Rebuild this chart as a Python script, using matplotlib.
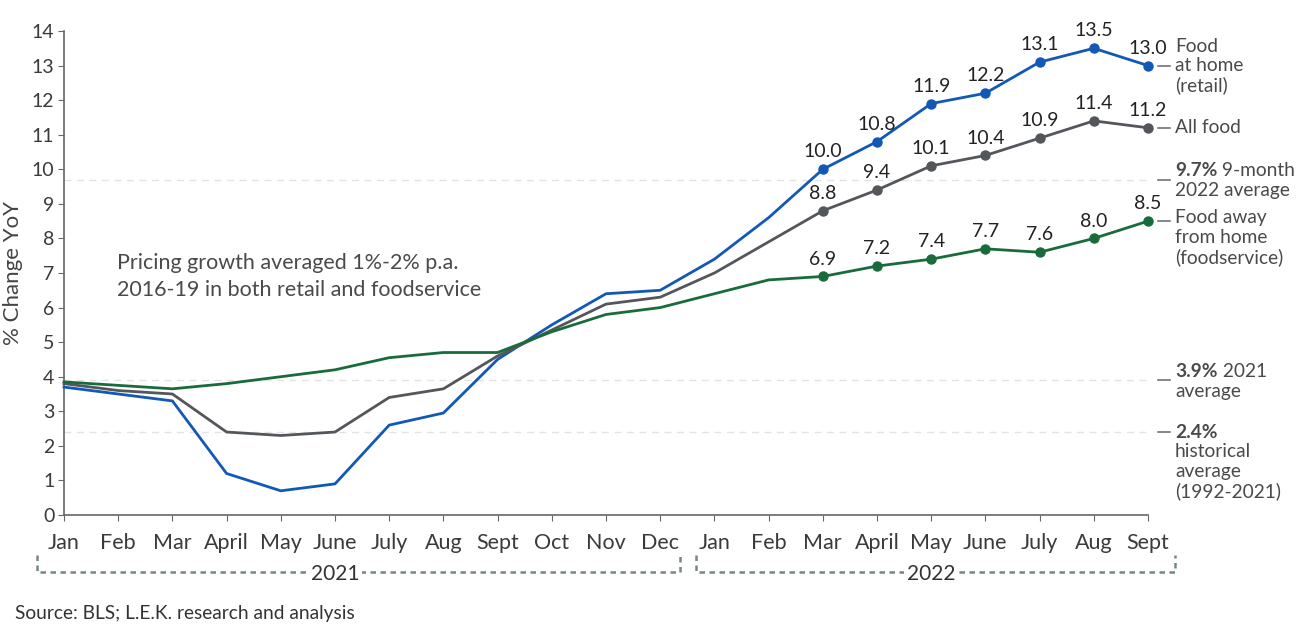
import matplotlib
matplotlib.use("Agg")
import matplotlib.pyplot as plt
from matplotlib.lines import Line2D

plt.rcParams['font.family'] = ['Lato', 'DejaVu Sans']

# ---- data ----
months_2021 = ['Jan', 'Feb', 'Mar', 'April', 'May', 'June', 'July', 'Aug', 'Sept', 'Oct', 'Nov', 'Dec']
months_2022 = ['Jan', 'Feb', 'Mar', 'April', 'May', 'June', 'July', 'Aug', 'Sept']
food_at_home = [3.7, 3.5, 3.3, 1.2, 0.7, 0.9, 2.6, 2.95, 4.5, 5.5, 6.4, 6.5,
                7.4, 8.6, 10.0, 10.8, 11.9, 12.2, 13.1, 13.5, 13.0]
all_food = [3.8, 3.6, 3.5, 2.4, 2.3, 2.4, 3.4, 3.65, 4.6, 5.35, 6.1, 6.3,
            7.0, 7.9, 8.8, 9.4, 10.1, 10.4, 10.9, 11.4, 11.2]
food_away = [3.85, 3.75, 3.65, 3.8, 4.0, 4.2, 4.55, 4.7, 4.7, 5.3, 5.8, 6.0,
             6.4, 6.8, 6.9, 7.2, 7.4, 7.7, 7.6, 8.0, 8.5]
labeled_from = 14  # Mar 2022 onward carry markers and value labels
ref_2022_avg = 9.7
ref_2021_avg = 3.9
ref_hist_avg = 2.4

BLUE = '#1258b5'
GRAY = '#53575b'
GREEN = '#1a6b3c'
TXT = '#4a4a4a'

fig = plt.figure(figsize=(13, 6.33), dpi=100)
ax = fig.add_axes([64 / 1300, 1 - 515 / 633, (1148 - 64) / 1300, (515 - 31) / 633])

months = months_2021 + months_2022
x = list(range(len(months)))

# reference lines
for v in (ref_2022_avg, ref_2021_avg, ref_hist_avg):
    ax.axhline(v, color='#e3e3e3', lw=1.0, ls=(0, (5, 4)), zorder=1)

series = [(food_at_home, BLUE), (all_food, GRAY), (food_away, GREEN)]
for vals, col in series:
    ax.plot(x, vals, color=col, lw=2.0, zorder=3, clip_on=False)
    ax.plot(x[labeled_from:], vals[labeled_from:], 'o', color=col, ms=6.5,
            zorder=4, clip_on=False)
    for xi, v in zip(x[labeled_from:], vals[labeled_from:]):
        ax.annotate(f'{v:.1f}', xy=(xi, v), xytext=(0, 12.5), textcoords='offset points',
                    ha='center', va='center', fontsize=14, color='#222222')

ax.set_xlim(0, 20)
ax.set_ylim(0, 14)
ax.set_yticks(range(0, 15))
ax.set_xticks(x)
ax.set_xticklabels(months)
for s in ('top', 'right'):
    ax.spines[s].set_visible(False)
for s in ('left', 'bottom'):
    ax.spines[s].set_color('#666666')
    ax.spines[s].set_linewidth(1.2)
ax.tick_params(axis='y', length=4, color='#666666', labelsize=14, labelcolor='#3a3a3a', pad=3)
ax.tick_params(axis='x', length=4, color='#666666', labelsize=15.5, labelcolor='#3a3a3a', pad=9)
ax.set_ylabel('% Change YoY', fontsize=16, color='#444444', labelpad=6)

# annotation box text
ax.text(0.98, 6.9, 'Pricing growth averaged 1%-2% p.a.\n2016-19 in both retail and foodservice',
        fontsize=15.5, color=TXT, ha='left', va='center', linespacing=1.4)

# year brackets
xt = ax.get_xaxis_transform()
bracket_col = '#76877f'
for x0, x1, yr, xc in [(-0.5, 11.37, '2021', 5.0), (11.66, 20.5, '2022', 16.0)]:
    y_low, y_high = -0.118, -0.083
    ax.add_line(Line2D([x0, x0, x1, x1], [y_high, y_low, y_low, y_high], transform=xt,
                       color=bracket_col, lw=1.8, ls=(0, (2.2, 1.8)), clip_on=False))
    ax.text(xc, y_low - 0.004, yr, transform=xt, ha='center', va='center', fontsize=15,
            color='#333333', bbox=dict(boxstyle='square,pad=0.15', fc='white', ec='none'))

# right annotations
x_dash0, x_dash1, x_txt = 20.18, 20.4, 20.5
step_pt = 14.2
def lines_at(y, lines, first_bold=None, fs=13.8):
    for i, ln in enumerate(lines):
        if i == 0 and first_bold:
            t = ax.annotate(first_bold, xy=(x_txt, y), xytext=(0, 0), textcoords='offset points',
                            ha='left', va='center', fontsize=fs, color=TXT,
                            fontweight='bold', annotation_clip=False)
            if ln:
                ax.annotate(' ' + ln, xy=(1, 0), xycoords=t, ha='left', va='bottom',
                            fontsize=fs, color=TXT, annotation_clip=False)
        else:
            ax.annotate(ln, xy=(x_txt, y), xytext=(0, -i * step_pt), textcoords='offset points',
                        ha='left', va='center', fontsize=fs, color=TXT, annotation_clip=False)

def dash(y):
    ax.add_line(Line2D([x_dash0, x_dash1], [y, y], color='#666666', lw=1.1, clip_on=False))

dash(food_at_home[-1]); lines_at(food_at_home[-1] + 0.56, ['Food', 'at home', '(retail)'])
dash(all_food[-1]); lines_at(all_food[-1], ['All food'])
dash(ref_2022_avg); lines_at(ref_2022_avg + 0.27, ['9-month', '2022 average'], first_bold='9.7%')
dash(food_away[-1]); lines_at(food_away[-1] + 0.1, ['Food away', 'from home', '(foodservice)'])
dash(ref_2021_avg); lines_at(ref_2021_avg + 0.25, ['2021', 'average'], first_bold='3.9%')
dash(ref_hist_avg); lines_at(ref_hist_avg, ['', 'historical', 'average', '(1992-2021)'], first_bold='2.4%')

fig.text(15 / 1300, 1 - 613 / 633, 'Source: BLS; L.E.K. research and analysis', fontsize=13.8,
         color='#333333', ha='left', va='center')

fig.savefig('out.png', dpi=100)
